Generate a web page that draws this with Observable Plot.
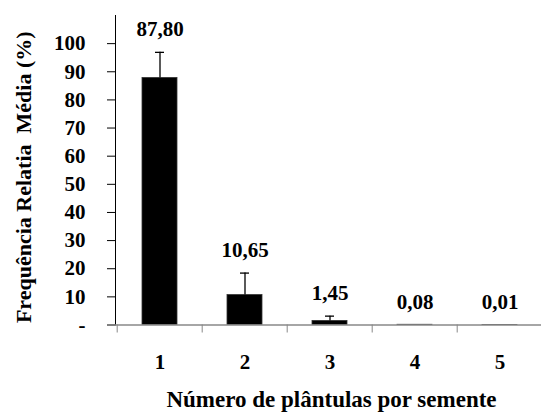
<!DOCTYPE html>
<html>
<head>
<meta charset="utf-8">
<script src="https://cdn.jsdelivr.net/npm/d3@7"></script>
<script src="https://cdn.jsdelivr.net/npm/@observablehq/plot@0.6"></script>
<style>
  html, body { margin: 0; padding: 0; background: #fff; }
</style>
</head>
<body>
<div id="chart"></div>
<script>
// Data
const categories = [1, 2, 3, 4, 5];
const means = [87.80, 10.65, 1.45, 0.08, 0.01];
const errors = [9.1, 7.8, 1.7, 0, 0];
const yTicks = [0, 10, 20, 30, 40, 50, 60, 70, 80, 90, 100];
const xTitle = "Número de plântulas por semente";
const yTitle = "Frequência Relatia  Média (%)";

const data = categories.map((c, i) => ({cat: c, value: means[i], err: errors[i], top: means[i] + errors[i]}));
const withErr = data.filter(d => d.err > 0);
const fmt = v => v.toFixed(2).replace(".", ",");

const W = 541, H = 412;
const mL = 115, mT = 15, mB = 87.5;
const xRange = [115, 543];
const step = (xRange[1] - xRange[0]) / categories.length;

const chart = Plot.plot({
  width: W,
  height: H,
  marginLeft: mL,
  marginRight: 0,
  marginTop: mT,
  marginBottom: mB,
  style: {fontFamily: "Liberation Serif", fontSize: "21px", fontWeight: "bold"},
  x: {type: "band", domain: categories, range: xRange, paddingInner: 0.59, paddingOuter: 0.295, axis: null},
  y: {domain: [0, 110], ticks: yTicks, tickSize: 8, tickPadding: 22, line: true, label: null,
      tickFormat: d => d === 0 ? "-" : String(d)},
  marks: [
    Plot.barY(data, {x: "cat", y: "value", fill: "#000", stroke: "#333", strokeWidth: 0.8}),
    Plot.ruleY([0], {stroke: "#888", strokeWidth: 1.5}),
    Plot.axisX({tickSize: 0, tickPadding: 29, label: null}),
    Plot.axisX({tickSize: 8, tickFormat: () => "", dx: -step / 2, stroke: "#888", label: null}),
    Plot.ruleX(withErr, {x: "cat", y1: "value", y2: "top", stroke: "#000", strokeWidth: 1.3}),
    Plot.tickY(withErr, {x: "cat", y: "top", stroke: "#000", strokeWidth: 1.3, insetLeft: 13, insetRight: 13}),
    Plot.text(data, {x: "cat", y: "top", text: d => fmt(d.value), dy: -23, fontSize: 21, fill: "#000"}),
    Plot.text([xTitle], {frameAnchor: "bottom", textAnchor: "middle", lineAnchor: "bottom", dy: 82, dx: 3, fontSize: 23, fill: "#000"}),
    Plot.text([yTitle], {frameAnchor: "left", textAnchor: "middle", rotate: -90, dx: -92, dy: 7, fontSize: 22, fill: "#000"})
  ]
});
d3.select(chart).selectAll("text").attr("font-family", "Liberation Serif").attr("font-weight", "bold");
document.getElementById("chart").appendChild(chart);
</script>
</body>
</html>
